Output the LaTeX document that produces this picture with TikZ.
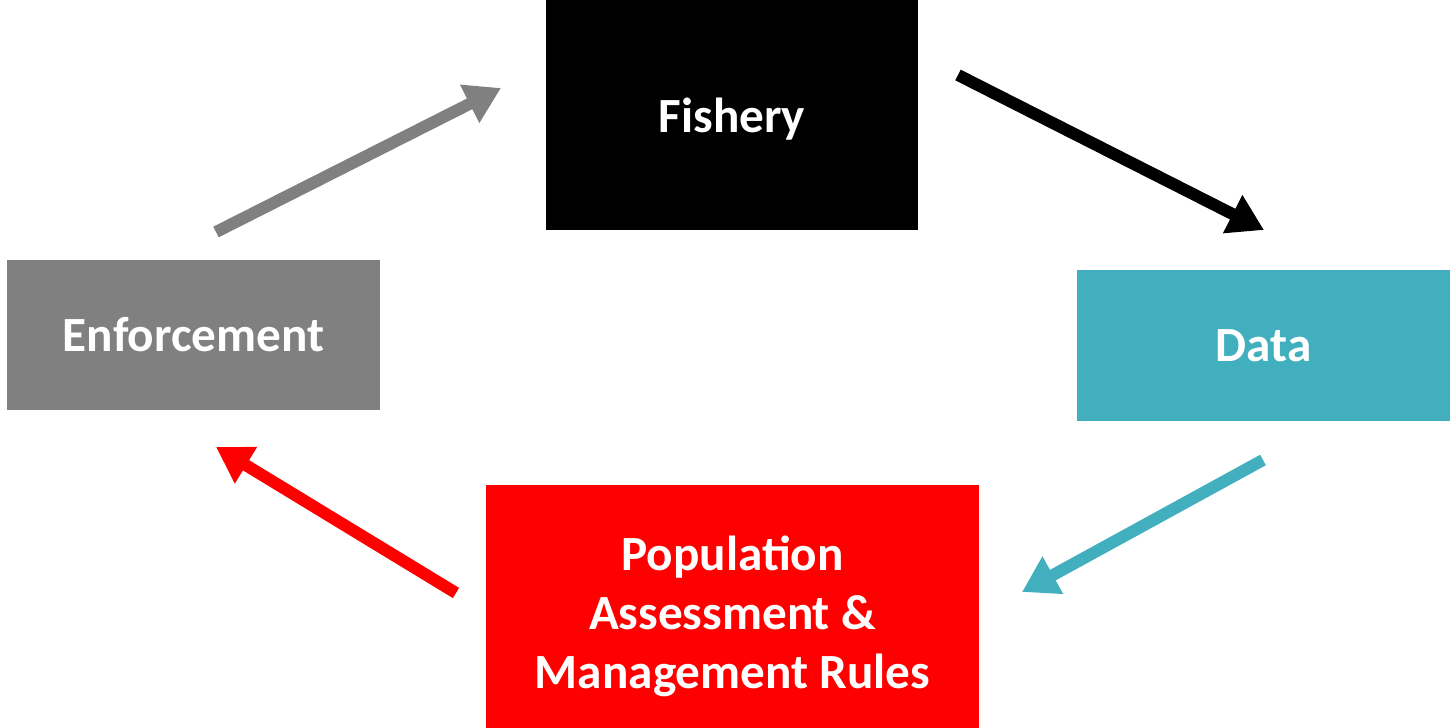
\documentclass[tikz,border=0pt]{standalone}
\usepackage{fontspec}
\setmainfont{Carlito}
\usetikzlibrary{arrows.meta}

\definecolor{boxgray}{HTML}{808080}
\definecolor{boxteal}{HTML}{42AFBF}
\definecolor{boxred}{HTML}{FF0000}

\tikzset{
  stage/.style={rectangle, inner sep=0pt, text=white, align=center,
    font=\fontsize{28}{33.6}\selectfont\bfseries},
  flow/.style={line width=6.8pt, -{Triangle[length=20pt, width=23pt]}}
}

\begin{document}
\begin{tikzpicture}
            \useasboundingbox (0, 0) rectangle (29.06, -14.56);

            \node[stage, fill=black, minimum width=7.44cm, minimum height=4.6cm, text height=25pt, text depth=5pt] (fishery) at (14.64, -2.3) {Fishery};
            \node[stage, fill=boxteal, minimum width=7.46cm, minimum height=3.02cm] (data) at (25.27, -6.91) {Data};
            \node[stage, fill=boxred, minimum width=9.86cm, minimum height=4.86cm, text height=93pt, text depth=0pt] (assess) at (14.65, -12.13) {Population\\Assessment \&\\Management Rules};
            \node[stage, fill=boxgray, minimum width=7.46cm, minimum height=3cm] (enforce) at (3.87, -6.7) {Enforcement};

            \coordinate (enforce out) at (4.32, -4.64);
            \coordinate (fishery in) at (10.02, -1.76);
            \coordinate (fishery out) at (19.16, -1.5);
            \coordinate (data in) at (25.28, -4.6);
            \coordinate (data out) at (25.26, -9.2);
            \coordinate (assess in) at (20.44, -11.84);
            \coordinate (assess out) at (9.12, -11.86);
            \coordinate (enforce in) at (4.32, -8.94);

            \draw[flow, boxgray] (enforce out) -- (fishery in);
            \draw[flow, black] (fishery out) -- (data in);
            \draw[flow, boxteal] (data out) -- (assess in);
            \draw[flow, boxred] (assess out) -- (enforce in);
        \end{tikzpicture}
\end{document}
